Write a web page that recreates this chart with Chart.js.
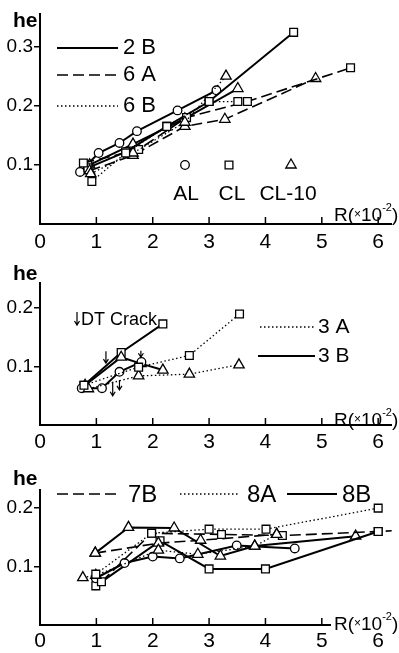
<!DOCTYPE html>
<html><head><meta charset="utf-8">
<script src="https://cdn.jsdelivr.net/npm/chart.js@4"></script>
<style>
html,body{margin:0;padding:0;background:#fff;}
#wrap{position:relative;width:399px;height:653px;overflow:hidden;background:#fff;}
canvas{position:absolute;left:0;}
</style></head><body>
<div id="wrap">
<canvas id="c1" width="399" height="253" style="top:0px"></canvas>
<canvas id="c2" width="399" height="200" style="top:255px"></canvas>
<canvas id="c3" width="399" height="198" style="top:455px"></canvas>
</div>
<script>
// ---------- ticks ----------
const xTicks = [0, 1, 2, 3, 4, 5, 6];
const yTicks1 = [0.1, 0.2, 0.3];
const yTicks2 = [0.1, 0.2];
const yTicks3 = [0.1, 0.2];

// ---------- panel 1 : 2B / 6A / 6B ----------
const p1_2B_AL   = [[0.71,0.088],[1.04,0.12],[1.41,0.137],[1.72,0.157],[2.44,0.192],[3.13,0.226]];
const p1_2B_CL   = [[0.85,0.095],[1.52,0.122],[2.25,0.165],[3.0,0.207],[4.5,0.324]];
const p1_2B_CL10 = [[0.88,0.10],[1.65,0.135],[2.57,0.178],[3.51,0.229]];
const p1_6A_CL   = [[0.77,0.103],[1.75,0.126],[2.6,0.18],[3.68,0.207],[5.51,0.264]];
const p1_6A_CL10 = [[0.88,0.09],[1.65,0.116],[2.57,0.165],[3.28,0.177],[4.89,0.246]];
const p1_6B_CL   = [[0.92,0.072],[1.52,0.12],[2.25,0.165],[3.0,0.207],[3.51,0.207]];
const p1_6B_CL10 = [[0.90,0.085],[1.65,0.12],[2.57,0.172],[3.30,0.25]];

// ---------- panel 2 : 3A / 3B ----------
const p2_3B_CL   = [[0.78,0.068],[1.44,0.124],[2.18,0.173]];
const p2_3B_CL10 = [[0.80,0.068],[1.44,0.116],[1.79,0.105],[2.18,0.094]];
const p2_3B_AL   = [[0.74,0.063],[1.10,0.063],[1.41,0.091],[1.80,0.108]];
const p2_3A_CL   = [[0.78,0.068],[1.75,0.099],[2.65,0.119],[3.54,0.19]];
const p2_3A_CL10 = [[0.86,0.062],[1.75,0.084],[2.65,0.087],[3.53,0.103]];
// DT crack arrows (x, top value, bottom value)
const p2_arrX   = [1.17, 1.29, 1.41, 1.79];
const p2_arrTop = [0.126, 0.074, 0.077, 0.127];
const p2_arrBot = [0.106, 0.05, 0.06, 0.116];

// ---------- panel 3 : 7B / 8A / 8B ----------
const p3_7B_CL   = [[1.09,0.074],[1.98,0.157],[3.22,0.155],[4.3,0.153],[6.0,0.16],[6.4,0.162]];
const p3_7B_CL10 = [[0.98,0.123],[2.1,0.14],[2.85,0.145],[4.2,0.155]];
const p3_8A_CL   = [[0.99,0.087],[1.98,0.157],[3.0,0.164],[4.01,0.164],[6.0,0.2]];
const p3_8A_CL10 = [[0.76,0.081],[0.99,0.085],[2.1,0.128],[2.8,0.121],[3.81,0.135],[4.2,0.155]];
const p3_8B_AL   = [[0.99,0.08],[1.5,0.106],[2.0,0.117],[2.48,0.114],[3.49,0.136],[4.52,0.131]];
const p3_8B_CL   = [[0.99,0.067],[2.13,0.144],[3.0,0.096],[4.0,0.096],[6.0,0.16]];
const p3_8B_CL10 = [[0.98,0.123],[1.57,0.167],[2.38,0.166],[3.2,0.118],[3.81,0.135],[5.6,0.152]];

// ---------- styling ----------
const FONT = "'Liberation Sans', Arial, sans-serif";
function lineStyle(kind){
  if (kind === 'solid') return {w:2, dash:[]};
  if (kind === 'dashed') return {w:1.6, dash:[11,5]};
  return {w:1.3, dash:[1.5,2.5]};
}
const markerOf = {
  AL:   {pointStyle:'circle',   r:4.3},
  CL:   {pointStyle:'rect',     r:5.5},
  CL10: {pointStyle:'triangle', r:6}
};
function ds(points, kind, mk){
  const s = lineStyle(kind), m = markerOf[mk];
  return {
    data: points.map(p => ({x:p[0], y:p[1]})),
    showLine:true, tension:0, fill:false,
    borderColor:'#000', borderWidth:s.w, borderDash:s.dash,
    pointStyle:m.pointStyle, pointRadius:m.r, pointHoverRadius:m.r,
    pointBackgroundColor:'#fff', pointBorderColor:'#000', pointBorderWidth:1.3
  };
}
function legLine(ctx, x1, x2, y, kind){
  const s = lineStyle(kind);
  ctx.save();
  ctx.strokeStyle = '#000'; ctx.lineWidth = s.w; ctx.setLineDash(s.dash);
  ctx.beginPath(); ctx.moveTo(x1, y); ctx.lineTo(x2, y); ctx.stroke();
  ctx.restore();
}
function txt(ctx, s, x, y, size, align, base, weight){
  ctx.save();
  ctx.fillStyle = '#000';
  ctx.font = (weight || 'normal') + ' ' + size + 'px ' + FONT;
  ctx.textAlign = align || 'left';
  ctx.textBaseline = base || 'alphabetic';
  ctx.fillText(s, x, y);
  ctx.restore();
}
function drawR(ctx, x, y){
  ctx.save();
  ctx.fillStyle = '#000';
  ctx.textBaseline = 'alphabetic'; ctx.textAlign = 'left';
  ctx.font = '19px ' + FONT; ctx.fillText('R(', x, y); x += ctx.measureText('R(').width;
  ctx.font = '12px ' + FONT; ctx.fillText('×', x, y - 3); x += ctx.measureText('×').width;
  ctx.font = '19px ' + FONT; ctx.fillText('10', x, y); x += ctx.measureText('10').width;
  ctx.font = '11px ' + FONT; ctx.fillText('-2', x, y - 10); x += ctx.measureText('-2').width;
  ctx.font = '19px ' + FONT; ctx.fillText(')', x, y);
  ctx.restore();
}
function vArrow(ctx, x, yTop, yBot){
  ctx.save();
  ctx.strokeStyle = '#000'; ctx.lineWidth = 1.2;
  ctx.beginPath(); ctx.moveTo(x, yTop); ctx.lineTo(x, yBot);
  ctx.moveTo(x - 2.5, yBot - 4); ctx.lineTo(x, yBot); ctx.lineTo(x + 2.5, yBot - 4);
  ctx.stroke();
  ctx.restore();
}
function common(chart, heY, rY, clearR){
  const ctx = chart.ctx, xs = chart.scales.x, base = chart.chartArea.bottom;
  ctx.save();
  ctx.strokeStyle = '#000'; ctx.lineWidth = 1.5;
  xTicks.slice(1).forEach(v => {
    const px = xs.getPixelForValue(v);
    ctx.beginPath(); ctx.moveTo(px, base); ctx.lineTo(px, base - 7); ctx.stroke();
  });
  ctx.restore();
  txt(ctx, 'he', 13, heY, 21, 'left', 'alphabetic', 'bold');
  if (clearR){ ctx.save(); ctx.fillStyle = '#fff'; ctx.fillRect(331, base - 14, 68, 17); ctx.restore(); }
  drawR(ctx, 334, rY);
}

function makeChart(id, datasets, cfg, extras){
  return new Chart(document.getElementById(id), {
    type:'scatter',
    data:{datasets},
    options:{
      responsive:false, animation:false, devicePixelRatio:1, events:[],
      layout:{padding:{top:cfg.padTop, left:0, right:0, bottom:0}},
      plugins:{legend:{display:false}, tooltip:{enabled:false}},
      scales:{
        x:{type:'linear', min:0, max:6.24,
           afterBuildTicks:s => { s.ticks = xTicks.map(v => ({value:v})); },
           afterFit:s => { s.height = cfg.xh; },
           grid:{display:false, drawTicks:false},
           border:{display:true, color:'#000', width:2},
           ticks:{color:'#000', font:{family:FONT, size:21}, padding:cfg.xpad,
                  maxRotation:0, autoSkip:false, callback:v => String(v)}},
        y:{type:'linear', min:0, max:cfg.ymax,
           afterBuildTicks:s => { s.ticks = cfg.yTicks.map(v => ({value:v})); },
           afterFit:s => { s.width = 40; },
           grid:{display:true, drawOnChartArea:false, drawTicks:true, tickLength:6, color:'#000', lineWidth:1.5},
           border:{display:true, color:'#000', width:2},
           ticks:{color:'#000', font:{family:FONT, size:19}, padding:1, callback:v => v.toFixed(1)}}
      }
    },
    plugins:[{id:'extras', afterDraw(chart){ extras(chart); }}]
  });
}

// ---------- panel 1 ----------
makeChart('c1', [
  ds(p1_6B_CL, 'dotted', 'CL'),
  ds(p1_6B_CL10, 'dotted', 'CL10'),
  ds(p1_6A_CL, 'dashed', 'CL'),
  ds(p1_6A_CL10, 'dashed', 'CL10'),
  ds(p1_2B_CL, 'solid', 'CL'),
  ds(p1_2B_CL10, 'solid', 'CL10'),
  ds(p1_2B_AL, 'solid', 'AL')
], {padTop:14, xh:29, xpad:6, ymax:0.355, yTicks:yTicks1}, chart => {
  const ctx = chart.ctx;
  common(chart, 27, 221, false);
  legLine(ctx, 57, 118, 48, 'solid');  txt(ctx, '2 B', 123, 48, 22, 'left', 'middle');
  legLine(ctx, 57, 118, 75, 'dashed'); txt(ctx, '6 A', 123, 75, 22, 'left', 'middle');
  legLine(ctx, 57, 118, 106, 'dotted');txt(ctx, '6 B', 123, 106, 22, 'left', 'middle');
  ctx.save(); ctx.fillStyle = '#fff'; ctx.strokeStyle = '#000'; ctx.lineWidth = 1.3;
  Chart.helpers.drawPoint(ctx, {pointStyle:'circle', radius:4.3, rotation:0, borderWidth:1.3}, 185, 165);
  Chart.helpers.drawPoint(ctx, {pointStyle:'rect', radius:5.5, rotation:0, borderWidth:1.3}, 229, 165);
  Chart.helpers.drawPoint(ctx, {pointStyle:'triangle', radius:6, rotation:0, borderWidth:1.3}, 291, 165);
  ctx.restore();
  txt(ctx, 'AL', 186, 200, 21, 'center');
  txt(ctx, 'CL', 232, 200, 21, 'center');
  txt(ctx, 'CL-10', 288, 200, 21, 'center');
});

// ---------- panel 2 ----------
makeChart('c2', [
  ds(p2_3A_CL, 'dotted', 'CL'),
  ds(p2_3A_CL10, 'dotted', 'CL10'),
  ds(p2_3B_AL, 'solid', 'AL'),
  ds(p2_3B_CL10, 'solid', 'CL10'),
  ds(p2_3B_CL, 'solid', 'CL')
], {padTop:28, xh:30, xpad:5, ymax:0.243, yTicks:yTicks2}, chart => {
  const ctx = chart.ctx, xs = chart.scales.x, ys = chart.scales.y;
  common(chart, 25, 171, false);
  legLine(ctx, 260, 315, 72, 'dotted'); txt(ctx, '3 A', 318, 72, 21, 'left', 'middle');
  legLine(ctx, 258, 315, 101, 'solid'); txt(ctx, '3 B', 318, 101, 21, 'left', 'middle');
  vArrow(ctx, 77, 57, 70);
  txt(ctx, 'DT Crack', 81, 70, 18, 'left');
  p2_arrX.forEach((v, i) => {
    vArrow(ctx, xs.getPixelForValue(v), ys.getPixelForValue(p2_arrTop[i]), ys.getPixelForValue(p2_arrBot[i]));
  });
});

// ---------- panel 3 ----------
makeChart('c3', [
  ds(p3_8A_CL, 'dotted', 'CL'),
  ds(p3_8A_CL10, 'dotted', 'CL10'),
  ds(p3_7B_CL, 'dashed', 'CL'),
  ds(p3_7B_CL10, 'dashed', 'CL10'),
  ds(p3_8B_AL, 'solid', 'AL'),
  ds(p3_8B_CL, 'solid', 'CL'),
  ds(p3_8B_CL10, 'solid', 'CL10')
], {padTop:35, xh:28, xpad:4, ymax:0.231, yTicks:yTicks3}, chart => {
  const ctx = chart.ctx;
  common(chart, 30, 175, true);
  legLine(ctx, 57, 120, 39, 'dashed');  txt(ctx, '7B', 128, 40, 24, 'left', 'middle');
  legLine(ctx, 180, 240, 39, 'dotted'); txt(ctx, '8A', 247, 40, 24, 'left', 'middle');
  legLine(ctx, 287, 337, 39, 'solid');  txt(ctx, '8B', 342, 40, 24, 'left', 'middle');
});
</script>
</body></html>
